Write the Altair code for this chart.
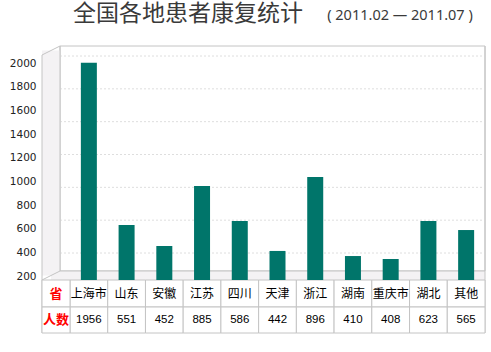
import altair as alt
import pandas as pd

# ---- data ----
provinces = ["上海市", "山东", "安徽", "江苏", "四川", "天津", "浙江", "湖南", "重庆市", "湖北", "其他"]
table_counts = [1956, 551, 452, 885, 586, 442, 896, 410, 408, 623, 565]
bar_values = [2005, 631, 454, 961, 665, 412, 1037, 369, 344, 665, 589]
y_ticks = [200, 400, 600, 800, 1000, 1200, 1400, 1600, 1800, 2000]
grid_levels = [1, 2, 3, 4, 5, 6, 7]
row_headers = ["省", "人数"]
title_text = "全国各地患者康复统计"
subtitle_text = "( 2011.02 — 2011.07 )"

df = pd.DataFrame({"province": provinces, "count": table_counts, "bar": bar_values})
df["count_label"] = df["count"].astype(str)
grid_df = pd.DataFrame({"level": grid_levels})
one = pd.DataFrame({"d": [0]})

W, H = 443, 287
BORDER = "#c4c4c4"
WALL = "#f4f2f4"
CJK = "Noto Sans CJK SC"

xscale = alt.Scale(domain=provinces, range=[28, 443], paddingInner=0, paddingOuter=0)
xenc = alt.X("province:N", scale=xscale, sort=provinces, axis=None)

back_wall = alt.Chart(one).mark_rect(fill="white", stroke=BORDER, strokeWidth=1).encode(
    x=alt.value(18), x2=alt.value(443), y=alt.value(0), y2=alt.value(225))
left_wall = alt.Chart(one).mark_rect(fill=WALL).encode(
    x=alt.value(0), x2=alt.value(18), y=alt.value(4.5), y2=alt.value(229.5))
floor = alt.Chart(one).mark_rect(fill=WALL).encode(
    x=alt.value(9), x2=alt.value(443), y=alt.value(225), y2=alt.value(234))

def edge(x1, y1, x2, y2):
    return alt.Chart(one).mark_rule(color=BORDER, strokeWidth=1).encode(
        x=alt.value(x1), y=alt.value(y1), x2=alt.value(x2), y2=alt.value(y2))

edges = [
    edge(0, 9, 18, 0),
    edge(0, 234, 18, 225),
    edge(0, 9, 0, 287),
    edge(18, 0, 18, 225),
    edge(18, 225, 443, 225),
    edge(443, 0, 443, 287),
]

grid = alt.Chart(grid_df).mark_rule(color="#dedede", strokeDash=[2, 2], strokeWidth=1).encode(
    y=alt.Y("level:Q", scale=alt.Scale(domain=[1, 7], range=[207, 10], nice=False, zero=False), axis=None),
    x=alt.value(18), x2=alt.value(442))

bars = alt.Chart(df).mark_bar(color="#00756a", width=16).encode(
    x=xenc,
    y=alt.Y("bar:Q", stack=None,
            scale=alt.Scale(domain=[200, 2000], range=[230, 17.3], nice=False, zero=False),
            axis=alt.Axis(values=y_ticks, format="d", domain=False, ticks=False, grid=False, labelPadding=6,
                          labelFont="DejaVu Sans", labelFontSize=10.5, labelColor="#222", title=None)),
    y2=alt.value(234))

row1_cells = alt.Chart(df).mark_rect(fill="white", stroke=BORDER, strokeWidth=1).encode(
    x=xenc, y=alt.value(234), y2=alt.value(261))
row2_cells = alt.Chart(df).mark_rect(fill="white", stroke=BORDER, strokeWidth=1).encode(
    x=xenc, y=alt.value(261), y2=alt.value(287))
head1 = alt.Chart(one).mark_rect(fill="white", stroke=BORDER, strokeWidth=1).encode(
    x=alt.value(0), x2=alt.value(28), y=alt.value(234), y2=alt.value(261))
head2 = alt.Chart(one).mark_rect(fill="white", stroke=BORDER, strokeWidth=1).encode(
    x=alt.value(0), x2=alt.value(28), y=alt.value(261), y2=alt.value(287))

prov_text = alt.Chart(df).mark_text(font=CJK, fontSize=12, color="#000", baseline="middle").encode(
    x=xenc, y=alt.value(247.5), text="province:N")
count_text = alt.Chart(df).mark_text(font="Liberation Sans", fontSize=11.5, color="#000", baseline="middle").encode(
    x=xenc, y=alt.value(274), text="count_label:N")
h1_text = alt.Chart(one).mark_text(text=row_headers[0], font=CJK, fontSize=13, fontWeight="bold",
                                   color="#ff0000", baseline="middle").encode(
    x=alt.value(14), y=alt.value(247.5))
h2_text = alt.Chart(one).mark_text(text=row_headers[1], font=CJK, fontSize=13, fontWeight="bold",
                                   color="#ff0000", baseline="middle").encode(
    x=alt.value(14), y=alt.value(274))

title = alt.Chart(one).mark_text(text=title_text, font=CJK, fontSize=23, color="#3a3a3a",
                                 align="left", baseline="top").encode(
    x=alt.value(31), y=alt.value(-43))
subtitle = alt.Chart(one).mark_text(text=subtitle_text, font="Noto Sans", fontSize=14.5, color="#3a3a3a",
                                    align="center", baseline="middle").encode(
    x=alt.value(358), y=alt.value(-30))

chart = alt.layer(
    back_wall, left_wall, floor, grid, *edges,
    row1_cells, row2_cells, head1, head2,
    bars, prov_text, count_text, h1_text, h2_text, title, subtitle
).resolve_scale(y="independent").properties(
    width=W, height=H,
    autosize=alt.AutoSizeParams(type="none"),
    padding={"left": 42, "top": 46, "right": 6, "bottom": 19},
    background="white",
).configure_view(strokeWidth=0)

chart.save("out.html", embed_options={"renderer": "svg", "actions": False})
